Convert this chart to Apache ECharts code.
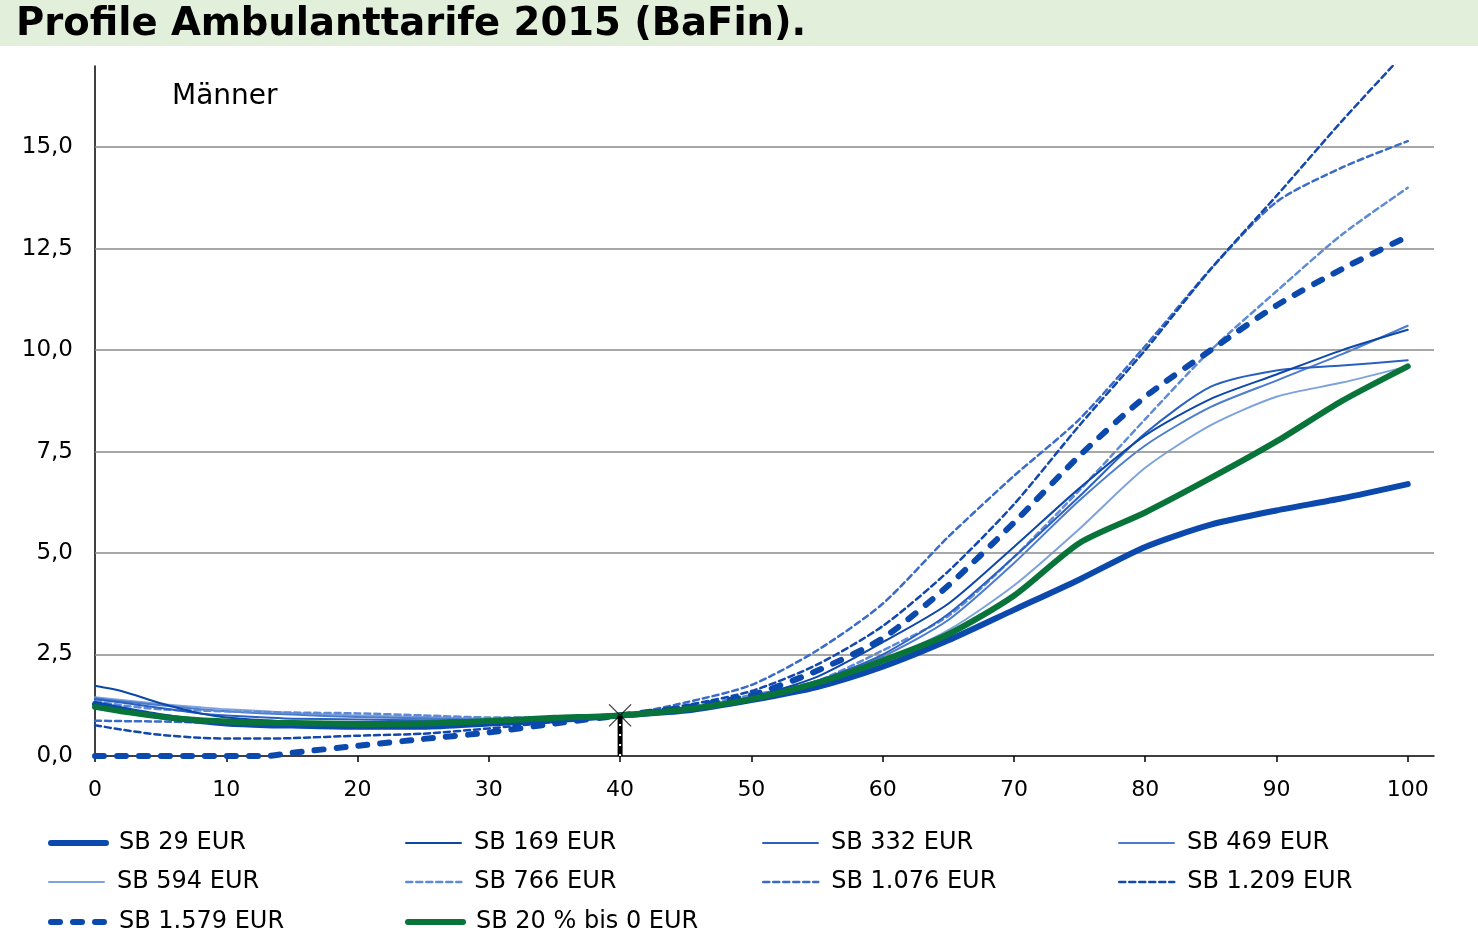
<!DOCTYPE html>
<html>
<head>
<meta charset="utf-8">
<script src="https://cdn.jsdelivr.net/npm/echarts@6/dist/echarts.min.js"></script>
<style>
html,body{margin:0;padding:0;background:#fff;}
#chart{width:1478px;height:931px;}
</style>
</head>
<body>
<div id="chart"></div>
<script>
// ---- data ----
const titleText = 'Profile Ambulanttarife 2015 (BaFin).';
const subLabel = 'Männer';
const ages = [0,2,5,8,10,13,15,20,25,30,35,40,45,50,55,60,65,70,75,80,85,90,95,100];
const xTicks = [0,10,20,30,40,50,60,70,80,90,100];
const yTicks = [0,2.5,5,7.5,10,12.5,15];

const sb29   = [1.28,1.15,0.98,0.86,0.80,0.76,0.75,0.72,0.72,0.80,0.88,1.00,1.12,1.38,1.70,2.20,2.85,3.60,4.35,5.15,5.70,6.05,6.35,6.70];
const sb169  = [1.73,1.60,1.30,1.05,0.95,0.88,0.85,0.80,0.80,0.84,0.90,1.00,1.15,1.45,1.95,2.80,3.75,5.15,6.60,7.90,8.80,9.40,10.00,10.50];
const sb332  = [1.40,1.32,1.18,1.05,1.00,0.95,0.92,0.90,0.88,0.88,0.92,1.00,1.15,1.45,1.85,2.50,3.50,4.90,6.40,7.95,9.10,9.50,9.62,9.75];
const sb469  = [1.42,1.35,1.25,1.15,1.10,1.05,1.02,0.96,0.93,0.90,0.93,1.00,1.15,1.43,1.80,2.45,3.35,4.75,6.30,7.65,8.60,9.25,9.90,10.60];
const sb594  = [1.45,1.38,1.28,1.20,1.15,1.10,1.06,1.00,0.96,0.92,0.94,1.00,1.14,1.40,1.78,2.35,3.10,4.20,5.60,7.10,8.15,8.85,9.20,9.60];
const sb766  = [1.35,1.25,1.15,1.12,1.10,1.08,1.07,1.05,1.00,0.95,0.95,1.00,1.20,1.50,1.85,2.60,3.45,4.90,6.55,8.30,10.00,11.45,12.85,14.00];
const sb1076 = [0.87,0.86,0.85,0.83,0.82,0.80,0.79,0.78,0.78,0.80,0.88,1.00,1.32,1.75,2.60,3.75,5.40,6.90,8.30,10.10,12.00,13.65,14.50,15.15];
const sb1209 = [0.76,0.65,0.52,0.45,0.43,0.43,0.44,0.50,0.55,0.68,0.84,1.00,1.25,1.60,2.25,3.20,4.55,6.20,8.15,10.00,12.00,13.80,15.65,17.40];
const sb1579 = [0,0,0,0,0,0,0.08,0.25,0.42,0.58,0.80,1.00,1.20,1.50,2.10,2.90,4.20,5.75,7.40,8.85,10.00,11.10,12.00,12.80];
const sb20   = [1.21,1.10,0.97,0.88,0.85,0.82,0.81,0.79,0.80,0.86,0.94,1.00,1.15,1.40,1.80,2.35,3.00,3.95,5.25,6.00,6.85,7.75,8.75,9.60];
const refAge = 40;
const refVal = 1.0;

const names = ['SB 29 EUR','SB 169 EUR','SB 332 EUR','SB 469 EUR','SB 594 EUR','SB 766 EUR','SB 1.076 EUR','SB 1.209 EUR','SB 1.579 EUR','SB 20 % bis 0 EUR'];
const values = [sb29,sb169,sb332,sb469,sb594,sb766,sb1076,sb1209,sb1579,sb20];

// ---- styles ----
const FONT = '"DejaVu Sans", Verdana, sans-serif';
const styles = [
  {color:'#0b49ad', width:6,   type:'solid', z:8},
  {color:'#0d47a8', width:2,   type:'solid', z:6},
  {color:'#2a60c0', width:2,   type:'solid', z:5},
  {color:'#4a7bcf', width:2,   type:'solid', z:4},
  {color:'#7ea2dc', width:2,   type:'solid', z:3},
  {color:'#5f8bd6', width:2.5, type:[6,4],   z:4},
  {color:'#3a6bc6', width:2.5, type:[6,4],   z:5},
  {color:'#1248ad', width:2.5, type:[6,4],   z:6},
  {color:'#0b49ad', width:6,   type:[9,13],  z:9},
  {color:'#08743a', width:6,   type:'solid', z:10}
];
// legend grid position of each series: [column, row]
const legendPos = [[0,0],[1,0],[2,0],[3,0],[0,1],[1,1],[2,1],[3,1],[0,2],[1,2]];
const legendColX = [48,405,762,1118];
const legendRowTop = [831,870,910];

const series = [];
series.push({
  type:'line', data:[], z:1, silent:true,
  markLine:{
    silent:true, symbol:['none','none'], animation:false,
    label:{show:false},
    lineStyle:{color:'#8a8a8a', width:1.5, type:'solid'},
    data: yTicks.filter(v => v > 0).map(v => ({yAxis:v}))
  }
});
names.forEach((n,i) => {
  const s = styles[i];
  series.push({
    name:n, type:'line', symbol:'none', showSymbol:false, smooth:0.25,
    z:s.z,
    data: ages.map((a,j) => [a, values[i][j]]),
    lineStyle:{color:s.color, width:s.width, type:s.type, cap:'round', join:'round'},
    itemStyle:{color:s.color}
  });
});
series.push({
  type:'line', symbol:'none', z:11, silent:true,
  data:[[refAge,0],[refAge,refVal]],
  lineStyle:{color:'#000', width:5, type:'solid', cap:'butt'}
});
series.push({
  type:'line', symbol:'none', z:12, silent:true,
  data:[[refAge,0],[refAge,refVal]],
  lineStyle:{color:'#fff', width:2, type:[2,8], cap:'butt'}
});
series.push({
  type:'scatter', z:13, silent:true,
  data:[[refAge,refVal]],
  symbol:'path://M0,0L10,10M10,0L0,10', symbolSize:22,
  itemStyle:{color:'rgba(0,0,0,0)', borderColor:'#000', borderWidth:1.2}
});

const legends = names.map((n,i) => ({
  left: legendColX[legendPos[i][0]], top: legendRowTop[legendPos[i][1]],
  padding:0, itemWidth:55, itemHeight:14, selectedMode:false,
  data:[n],
  itemStyle:{color:'rgba(0,0,0,0)', borderColor:'rgba(0,0,0,0)', borderWidth:0, opacity:0},
  lineStyle:{color:styles[i].color, width:styles[i].width, type:styles[i].type, cap:'round'},
  textStyle:{fontFamily:FONT, fontSize:24, color:'#000', lineHeight:24, padding:[0,0,0,8]}
}));

const chart = echarts.init(document.getElementById('chart'), null, {renderer:'canvas'});
chart.setOption({
  animation:false,
  backgroundColor:'#fff',
  title:{
    text:titleText, left:16, top:5, padding:0,
    textStyle:{fontFamily:FONT, fontSize:38.5, fontWeight:'bold', color:'#000', lineHeight:40}
  },
  graphic:[
    {type:'rect', left:0, top:0, z:-10, shape:{width:1478, height:46}, style:{fill:'#e2efda'}},
    {type:'text', left:172, top:83, style:{text:subLabel, fontFamily:FONT, fontSize:28, fill:'#000'}}
  ],
  legend:legends,
  grid:{left:95, right:44, top:66, bottom:175, containLabel:false},
  xAxis:{
    type:'value', min:0, max:102,
    axisLine:{show:true, lineStyle:{color:'#000', width:1.5}},
    axisTick:{show:true, customValues:xTicks, length:6, lineStyle:{color:'#000', width:1.5}},
    axisLabel:{customValues:xTicks, fontFamily:FONT, fontSize:22, color:'#000', margin:23},
    splitLine:{show:false}
  },
  yAxis:{
    type:'value', min:0, max:17,
    axisLine:{show:true, lineStyle:{color:'#000', width:1.5}},
    axisTick:{show:false},
    axisLabel:{customValues:yTicks, fontFamily:FONT, fontSize:23, color:'#000', margin:22,
      formatter: v => v.toFixed(1).replace('.', ',')},
    splitLine:{show:false}
  },
  series:series
});
</script>
</body>
</html>
